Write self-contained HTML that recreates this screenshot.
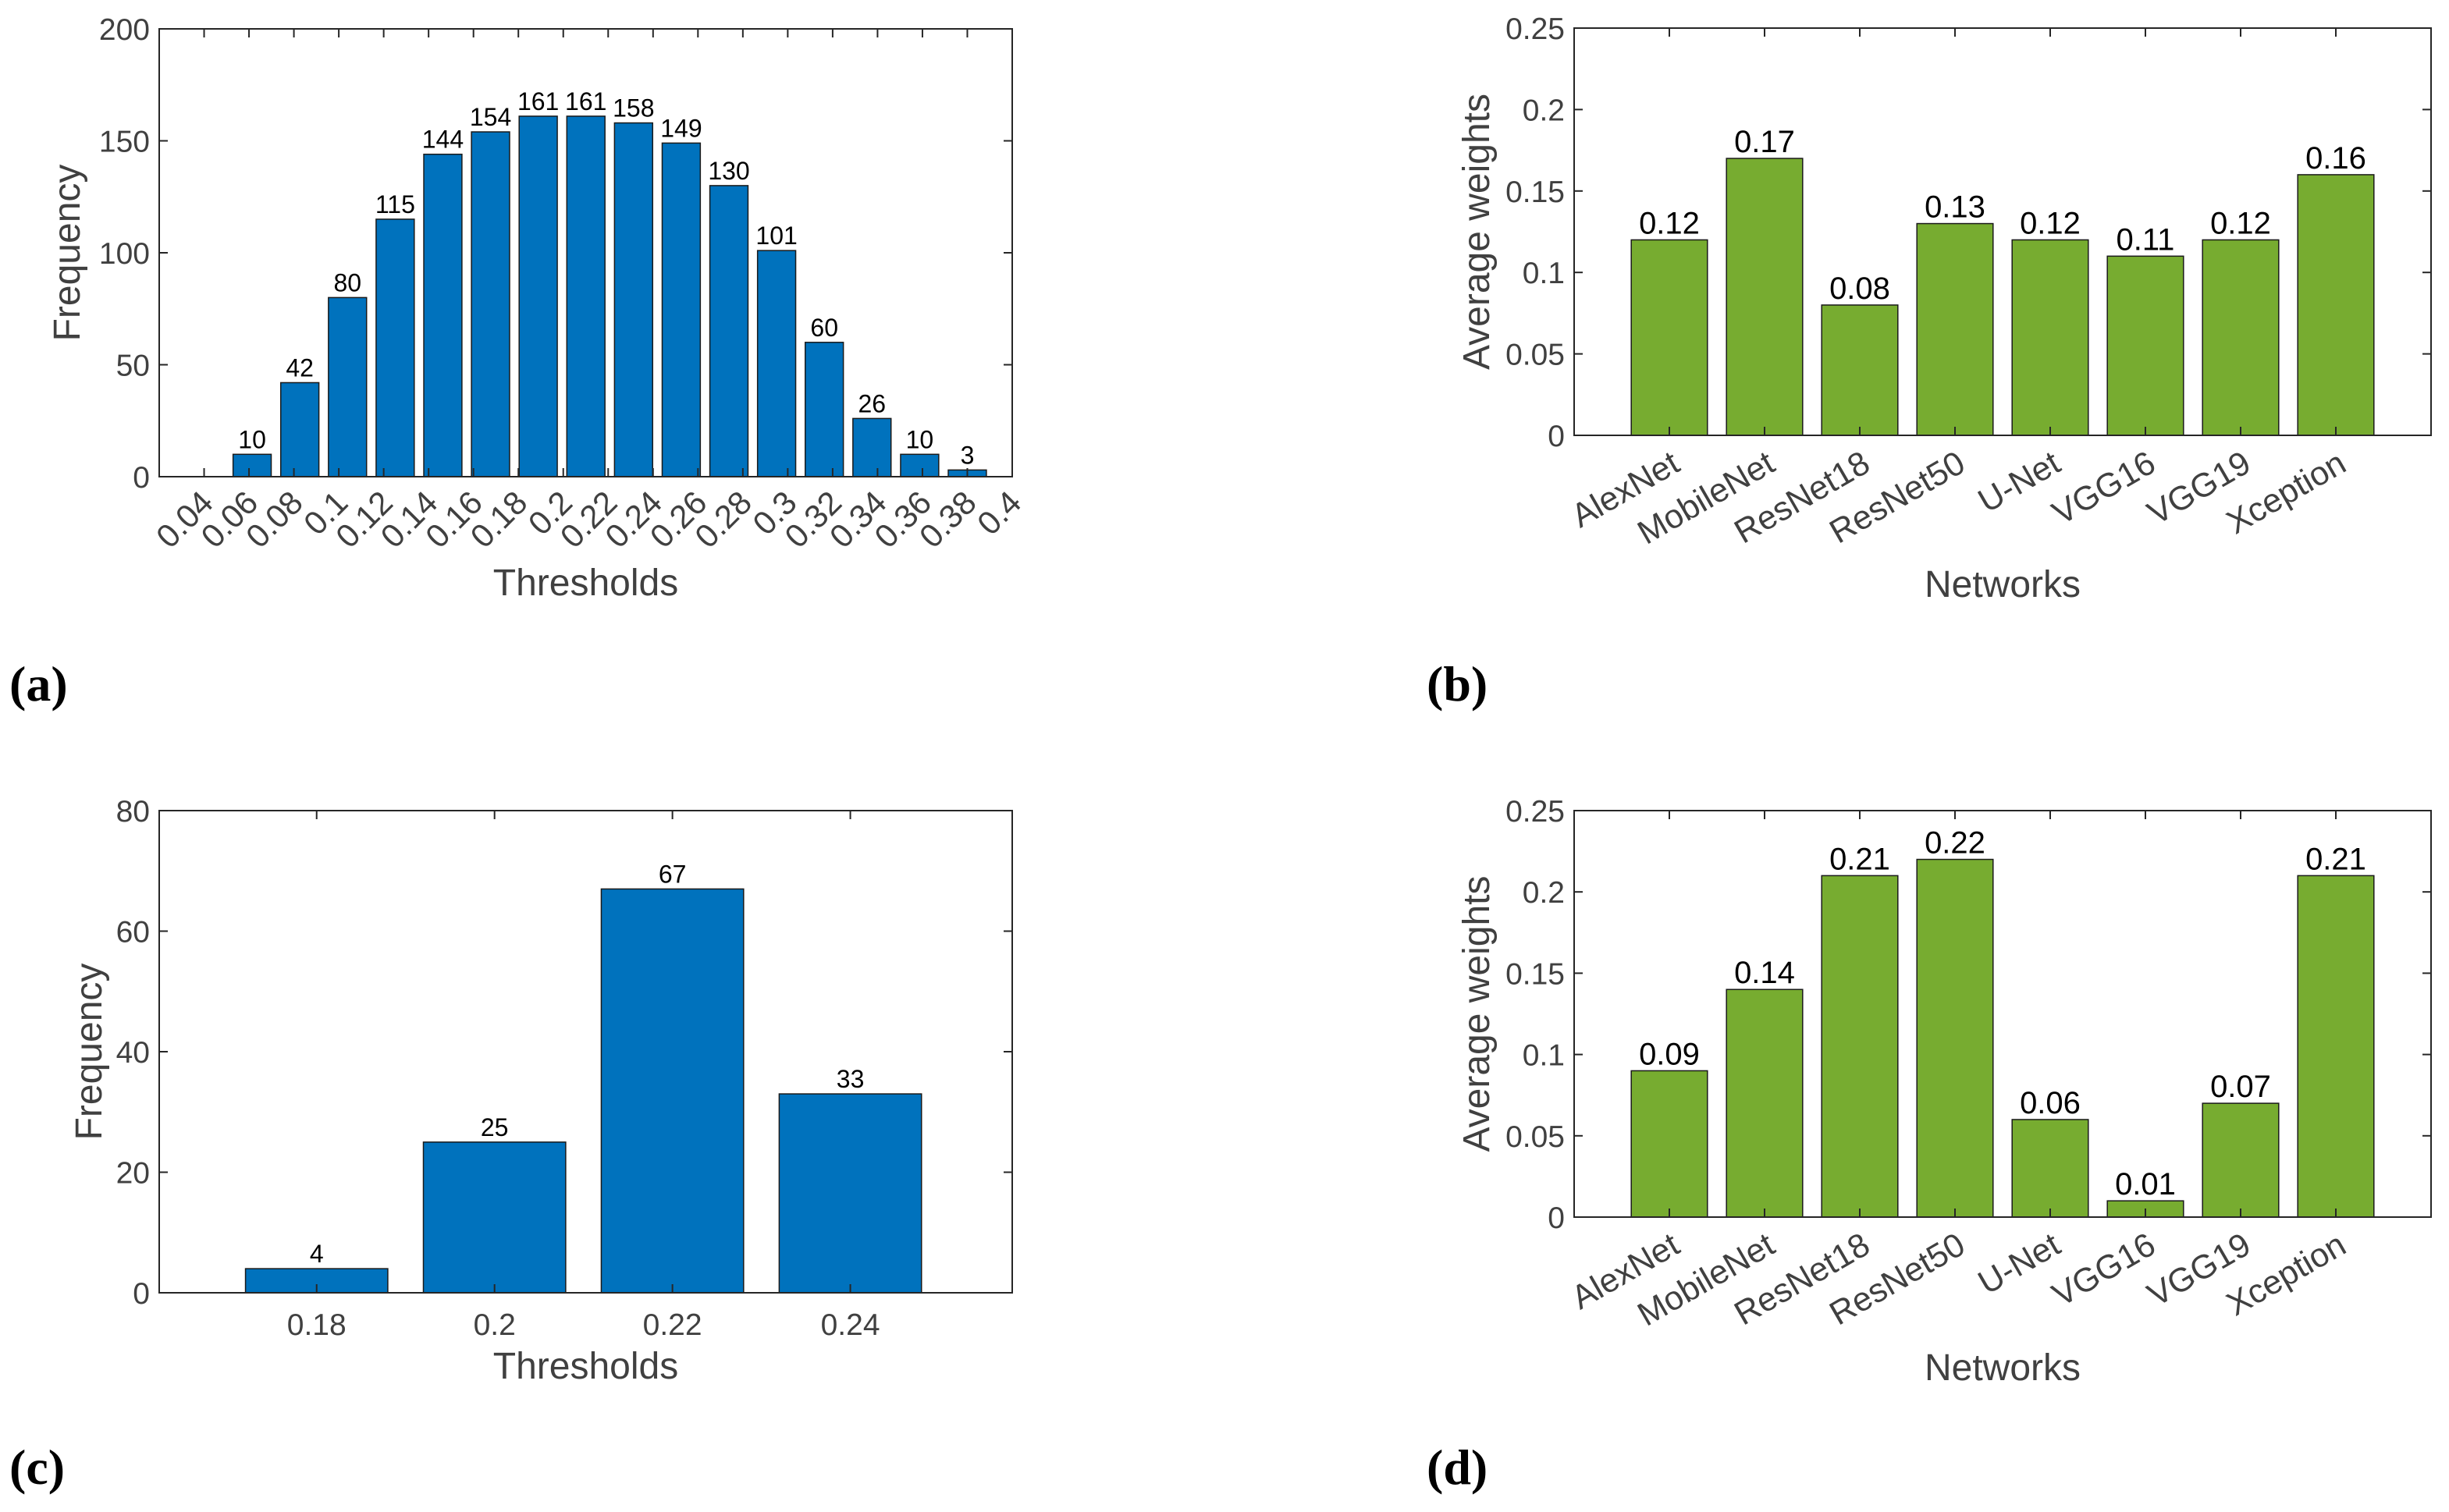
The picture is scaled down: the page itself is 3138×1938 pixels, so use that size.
<!DOCTYPE html>
<html><head><meta charset="utf-8">
<style>
html,body{margin:0;padding:0;background:#fff;}
svg{display:block;}
text{font-family:"Liberation Sans",sans-serif;}
text.serif{font-family:"Liberation Serif",serif;font-weight:bold;}
</style></head>
<body>
<svg id="fig" width="3138" height="1938" viewBox="0 0 3138 1938" xmlns="http://www.w3.org/2000/svg">
<text class="serif" x="12" y="898" font-size="64" fill="#000">(a)</text>
<text class="serif" x="1828" y="898" font-size="64" fill="#000">(b)</text>
<text class="serif" x="12" y="1902" font-size="64" fill="#000">(c)</text>
<text class="serif" x="1828" y="1902" font-size="64" fill="#000">(d)</text>
</svg>
<script>
// Panel (a) data
const aValues = [10,42,80,115,144,154,161,161,158,149,130,101,60,26,10,3];
const aFirstCenter = 0.0614, aLastCenter = 0.38;
const aTicks = ["0.04","0.06","0.08","0.1","0.12","0.14","0.16","0.18","0.2","0.22","0.24","0.26","0.28","0.3","0.32","0.34","0.36","0.38","0.4"];
const aYTicks = [0,50,100,150,200];
// Panel (c) data
const cCats = [0.18,0.2,0.22,0.24];
const cValues = [4,25,67,33];
const cTicks = ["0.18","0.2","0.22","0.24"];
const cYTicks = [0,20,40,60,80];
// Panel (b),(d) data
const netNames = ["AlexNet","MobileNet","ResNet18","ResNet50","U-Net","VGG16","VGG19","Xception"];
const bValues = [0.12,0.17,0.08,0.13,0.12,0.11,0.12,0.16];
const dValues = [0.09,0.14,0.21,0.22,0.06,0.01,0.07,0.21];
const wYTicks = [0,0.05,0.1,0.15,0.2,0.25];
const wYLabels = ["0","0.05","0.1","0.15","0.2","0.25"];

const NS="http://www.w3.org/2000/svg";
const svg=document.getElementById('fig');
function el(tag,attrs,parent){const e=document.createElementNS(NS,tag);for(const k in attrs)e.setAttribute(k,attrs[k]);(parent||svg).appendChild(e);return e;}
function txt(s,attrs,parent){const e=el('text',attrs,parent);e.textContent=s;return e;}

function axes(name,L,R,T,B,xmin,xmax,ymin,ymax){
  const g=el('g',{});
  
  
  const sx=v=>L+(v-xmin)/(xmax-xmin)*(R-L);
  const sy=v=>B-(v-ymin)/(ymax-ymin)*(B-T);
  return {g,sx,sy,L,R,T,B};
}
function frame(ax){
  const r=el('rect',{x:ax.L,y:ax.T,width:ax.R-ax.L,height:ax.B-ax.T,fill:'none',stroke:'#262626','stroke-width':2},ax.g);
  
  
}
function yTicks(ax,vals,labels){
  vals.forEach((v,i)=>{
    const y=ax.sy(v);
    el('line',{x1:ax.L,x2:ax.L+11,y1:y,y2:y,stroke:'#262626','stroke-width':2},ax.g);
    el('line',{x1:ax.R,x2:ax.R-11,y1:y,y2:y,stroke:'#262626','stroke-width':2},ax.g);
    const t=txt(labels[i],{x:ax.L-12,y:y+14,'text-anchor':'end','font-size':39,fill:'#404040'},ax.g);
    
    
  });
}
function xTickMarks(ax,x){
  el('line',{x1:x,x2:x,y1:ax.B,y2:ax.B-11,stroke:'#262626','stroke-width':2},ax.g);
  el('line',{x1:x,x2:x,y1:ax.T,y2:ax.T+11,stroke:'#262626','stroke-width':2},ax.g);
}
function bar(ax,cx,w,v,color,label,fs){
  const y=ax.sy(v),y0=ax.sy(0);
  const r=el('rect',{x:cx-w/2,y:y,width:w,height:y0-y,fill:color,stroke:'#1a1a1a','stroke-width':1.5},ax.g);
  
  
  const t=txt(label,{x:cx,y:y-8,'text-anchor':'middle','font-size':fs,fill:'#000'},ax.g);
  
  
}
function titles(ax,xt,xty,yt,ytx,xname,yname){
  const a=txt(xt,{x:(ax.L+ax.R)/2,y:xty,'text-anchor':'middle','font-size':48,fill:'#404040'},ax.g);
  
  
  const cy=(ax.T+ax.B)/2;
  const b=txt(yt,{x:ytx,y:cy,'text-anchor':'middle','font-size':48,fill:'#404040',transform:`rotate(-90 ${ytx} ${cy})`},ax.g);
  
  
}

// Panel (a)
{
  const ax=axes('histogram-a',204,1297,37,611,0.02,0.4,0,200);
  const step=(aLastCenter-aFirstCenter)/(aValues.length-1);
  const w=(ax.sx(step)-ax.sx(0))*0.8;
  aValues.forEach((v,i)=>bar(ax,ax.sx(aFirstCenter+i*step),w,v,'#0072BD',String(v),32));
  frame(ax);
  yTicks(ax,aYTicks,aYTicks.map(String));
  aTicks.forEach(s=>{
    const x=ax.sx(parseFloat(s));
    xTickMarks(ax,x);
    const t=txt(s,{x:x+14,y:ax.B+36,'text-anchor':'end','font-size':42,fill:'#404040',transform:`rotate(-45 ${x+14} ${ax.B+36})`},ax.g);
    
    
  });
  titles(ax,'Thresholds',763,'Frequency',102,'x-axis-title','y-axis-title');
}
// Panel (c)
{
  const ax=axes('histogram-c',204,1297,1039,1657,0.1623,0.2582,0,80);
  const w=(ax.sx(0.02)-ax.sx(0))*0.8;
  cCats.forEach((c,i)=>bar(ax,ax.sx(c),w,cValues[i],'#0072BD',String(cValues[i]),32));
  frame(ax);
  yTicks(ax,cYTicks,cYTicks.map(String));
  cTicks.forEach(s=>{
    const x=ax.sx(parseFloat(s));
    xTickMarks(ax,x);
    const t=txt(s,{x:x,y:ax.B+54,'text-anchor':'middle','font-size':39,fill:'#404040'},ax.g);
    
    
  });
  titles(ax,'Thresholds',1767,'Frequency',130,'x-axis-title','y-axis-title');
}
// Panels (b),(d)
function netPanel(name,T,B,vals,xtY){
  const ax=axes(name,2017,3115,T,B,0,9,0,0.25);
  const w=(ax.sx(1)-ax.sx(0))*0.8;
  vals.forEach((v,i)=>bar(ax,ax.sx(i+1),w,v,'#77AC30',v.toFixed(2),40));
  frame(ax);
  yTicks(ax,wYTicks,wYLabels);
  netNames.forEach((s,i)=>{
    const x=ax.sx(i+1);
    xTickMarks(ax,x);
    const t=txt(s,{x:x+16,y:ax.B+44,'text-anchor':'end','font-size':43,fill:'#404040',transform:`rotate(-30 ${x+16} ${ax.B+44})`},ax.g);
    
    
  });
  titles(ax,'Networks',xtY,'Average weights',1908,'x-axis-title','y-axis-title');
}
netPanel('bar-chart-b',36,558,bValues,765);
netPanel('bar-chart-d',1039,1560,dValues,1769);
</script>
</body></html>
